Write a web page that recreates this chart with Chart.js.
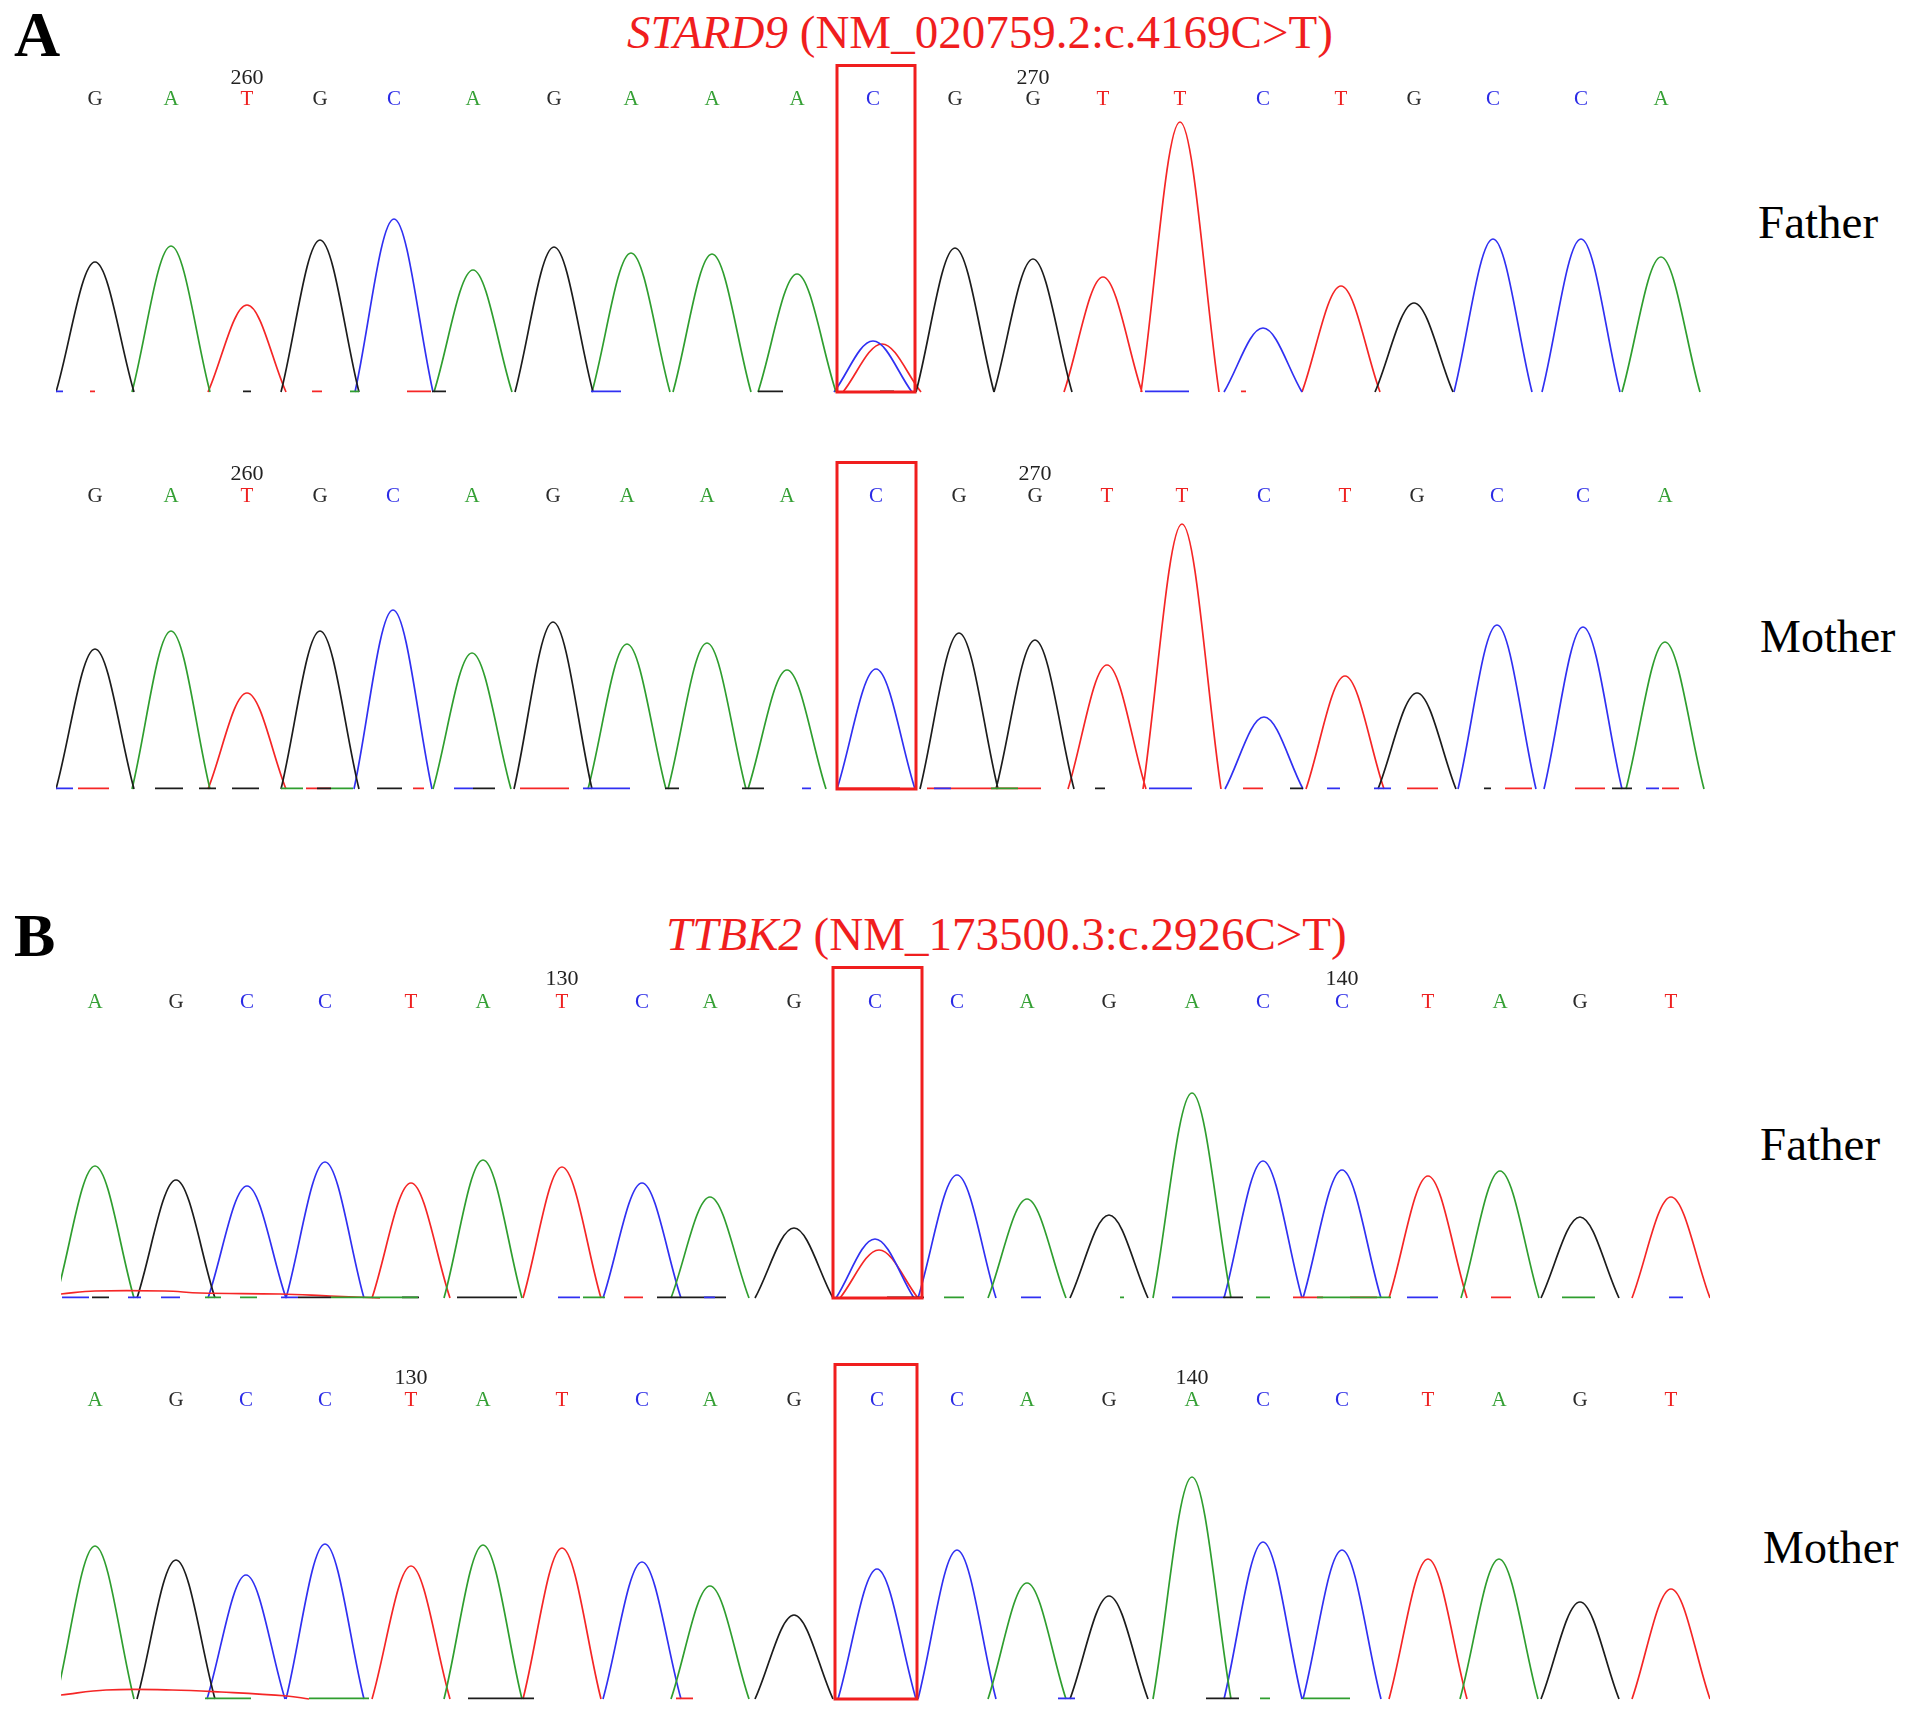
<!DOCTYPE html>
<html>
<head>
<meta charset="utf-8">
<script src="https://cdn.jsdelivr.net/npm/chart.js@4.4.0/dist/chart.umd.min.js"></script>
<style>
  body { margin: 0; background: #fff; width: 1913px; height: 1713px; position: relative; overflow: hidden; font-family: "Liberation Serif", "Times New Roman", serif; }
  .lbl { position: absolute; white-space: nowrap; line-height: 1; }
  canvas { position: absolute; left: 0; }
</style>
</head>
<body>
<div class="lbl" style="left:14px;top:3px;font-size:64px;font-weight:bold;">A</div>
<div class="lbl" style="left:627px;top:9px;font-size:47px;color:#f01e1e;"><i>STARD9</i> (NM_020759.2:c.4169C&gt;T)</div>
<div class="lbl" style="left:1758px;top:199px;font-size:47px;">Father</div>
<div class="lbl" style="left:1760px;top:614px;font-size:46px;">Mother</div>
<div class="lbl" style="left:14px;top:904px;font-size:62px;font-weight:bold;">B</div>
<div class="lbl" style="left:666px;top:911px;font-size:47px;color:#f01e1e;"><i>TTBK2</i> (NM_173500.3:c.2926C&gt;T)</div>
<div class="lbl" style="left:1760px;top:1121px;font-size:47px;">Father</div>
<div class="lbl" style="left:1763px;top:1525px;font-size:46px;">Mother</div>

<canvas id="aFather"></canvas>
<canvas id="aMother"></canvas>
<canvas id="bFather"></canvas>
<canvas id="bMother"></canvas>

<script>
// base calls
const seqA = ['G','A','T','G','C','A','G','A','A','A','C','G','G','T','T','C','T','G','C','C','A'];
const seqB = ['A','G','C','C','T','A','T','C','A','G','C','C','A','G','A','C','C','T','A','G','T'];

// peak positions (scan) and heights (signal)
const posAFather = [95, 171, 247, 320, 394, 473, 554, 631, 712, 797, 873, 955, 1033, 1103, 1180, 1263, 1341, 1414, 1493, 1581, 1661];
const hAFather   = [130, 146, 87, 152, 173, 122, 145, 139, 138, 118, 51, 144, 133, 115, 270, 64, 106, 89, 153, 153, 135];
const posAMother = [95, 171, 247, 320, 393, 472, 553, 627, 707, 787, 876, 959, 1035, 1107, 1182, 1264, 1345, 1417, 1497, 1583, 1665];
const hAMother   = [140, 158, 96, 158, 179, 136, 167, 145, 146, 119, 120, 156, 149, 124, 265, 72, 113, 96, 164, 162, 147];
const posBFather = [95, 176, 247, 325, 411, 483, 562, 642, 710, 794, 875, 957, 1027, 1109, 1192, 1263, 1342, 1428, 1500, 1580, 1671];
const hBFather   = [132, 118, 112, 136, 115, 138, 131, 115, 101, 70, 59, 123, 99, 83, 205, 137, 128, 122, 127, 81, 101];
const posBMother = [95, 176, 246, 325, 411, 483, 562, 642, 710, 794, 877, 957, 1027, 1109, 1192, 1263, 1342, 1428, 1499, 1580, 1671];
const hBMother   = [153, 139, 124, 155, 133, 154, 151, 137, 113, 84, 130, 149, 116, 103, 222, 157, 149, 140, 140, 97, 110];

// secondary (heterozygous) peaks
const hetAFather = [{ base: 'T', x: 882, h: 48 }];
const hetBFather = [{ base: 'T', x: 879, h: 48 }];

// position numbers: [call index, label]
const numAFather = [[2, '260'], [12, '270']];
const numAMother = [[2, '260'], [12, '270']];
const numBFather = [[6, '130'], [16, '140']];
const numBMother = [[4, '130'], [14, '140']];

// low baseline noise, [from, to] per channel
const noiseAFather = {
  C: [[56, 63], [591, 621], [1145, 1189]],
  T: [[90, 95], [312, 322], [407, 431], [1241, 1246]],
  G: [[243, 251], [432, 446], [758, 783], [880, 894]],
  A: [[350, 359]]
};
const noiseAMother = {
  C: [[56, 73], [454, 473], [583, 630], [802, 811], [934, 951], [1149, 1192], [1327, 1340], [1374, 1391], [1646, 1659]],
  T: [[78, 109], [306, 331], [413, 424], [520, 569], [838, 900], [927, 1041], [1243, 1263], [1407, 1438], [1505, 1532], [1575, 1605], [1662, 1679]],
  G: [[155, 183], [199, 216], [232, 259], [317, 331], [377, 402], [473, 495], [665, 679], [742, 764], [1095, 1105], [1290, 1303], [1484, 1491], [1612, 1632]],
  A: [[281, 303], [331, 353], [991, 1018]]
};
const noiseBFather = {
  C: [[62, 89], [128, 141], [161, 180], [281, 298], [558, 580], [704, 715], [1021, 1041], [1172, 1223], [1407, 1438], [1669, 1683]],
  G: [[92, 109], [298, 331], [402, 419], [457, 517], [657, 726], [887, 924], [1223, 1243]],
  A: [[205, 221], [240, 257], [331, 418], [583, 605], [944, 964], [1120, 1124], [1256, 1270], [1317, 1391], [1562, 1595]],
  T: [[624, 643], [1293, 1323], [1350, 1377], [1491, 1511]]
};
const noiseBMother = {
  A: [[205, 251], [309, 369], [1260, 1270], [1303, 1350]],
  G: [[468, 534], [1206, 1239]],
  T: [[676, 693]],
  C: [[1058, 1075]]
};

// red dye drift at the start of the B reads
const driftBFather = [[61, 4], [95, 7], [165, 7], [200, 5], [280, 4], [330, 2], [380, 0]];
const driftBMother = [[61, 4], [106, 9], [172, 9], [221, 7], [287, 3], [309, 0]];

const traceColors = { A: '#2f9e2f', C: '#3030f2', G: '#1c1c1c', T: '#f52626' };
const callColors  = { A: '#35a035', C: '#2a2ae6', G: '#2a2a2a', T: '#ee2020' };
const HALF = 39;   // peak half width in scans
const W = 1913;

const panels = [
  { id: 'aFather', seq: seqA, pos: posAFather, h: hAFather, het: hetAFather, nums: numAFather, noise: noiseAFather, drift: null,
    base: 392, yMax: 328, xMin: 56, xMax: 1702, callLift: 287, numLift: 308, box: [837, 915] },
  { id: 'aMother', seq: seqA, pos: posAMother, h: hAMother, het: [], nums: numAMother, noise: noiseAMother, drift: null,
    base: 789, yMax: 328, xMin: 56, xMax: 1705, callLift: 287, numLift: 309, box: [837, 916] },
  { id: 'bFather', seq: seqB, pos: posBFather, h: hBFather, het: hetBFather, nums: numBFather, noise: noiseBFather, drift: driftBFather,
    base: 1298, yMax: 332, xMin: 61, xMax: 1710, callLift: 290, numLift: 313, box: [833, 922] },
  { id: 'bMother', seq: seqB, pos: posBMother, h: hBMother, het: [], nums: numBMother, noise: noiseBMother, drift: driftBMother,
    base: 1699, yMax: 336, xMin: 61, xMax: 1710, callLift: 293, numLift: 315, box: [835, 917] }
];

// base calls, position numbers and the red box
const callsPlugin = {
  id: 'calls',
  afterDatasetsDraw(chart, args, o) {
    const { ctx, chartArea, scales } = chart;
    const x = scales.x;
    ctx.save();
    ctx.textAlign = 'center';
    ctx.textBaseline = 'alphabetic';
    ctx.font = '21px "Liberation Serif"';
    o.seq.forEach((b, i) => {
      ctx.fillStyle = callColors[b];
      ctx.fillText(b, x.getPixelForValue(o.pos[i]), chartArea.bottom - o.callLift);
    });
    ctx.font = '22px "Liberation Serif"';
    ctx.fillStyle = '#222';
    o.nums.forEach(([i, t]) => {
      ctx.fillText(t, x.getPixelForValue(o.pos[i]), chartArea.bottom - o.numLift);
    });
    ctx.strokeStyle = '#f01e1e';
    ctx.lineWidth = 3;
    const x0 = x.getPixelForValue(o.box[0]);
    const x1 = x.getPixelForValue(o.box[1]);
    ctx.strokeRect(x0, chartArea.top + 1.5, x1 - x0, chartArea.bottom - chartArea.top - 1.5);
    ctx.restore();
  }
};

function peakData(p, b) {
  const peaks = [];
  p.seq.forEach((s, i) => { if (s === b) peaks.push({ x: p.pos[i], h: p.h[i] }); });
  p.het.forEach(e => { if (e.base === b) peaks.push({ x: e.x, h: e.h }); });
  peaks.sort((a, c) => a.x - c.x);
  const pts = [];
  peaks.forEach(k => {
    pts.push({ x: k.x - HALF, y: 0 }, { x: k.x, y: k.h }, { x: k.x + HALF, y: 0 }, { x: k.x + HALF, y: null });
  });
  return pts;
}

function noiseData(list) {
  const pts = [];
  (list || []).forEach(([a, c]) => pts.push({ x: a, y: 0.6 }, { x: c, y: 0.6 }, { x: c, y: null }));
  return pts;
}

panels.forEach(p => {
  const cv = document.getElementById(p.id);
  cv.width = W;
  cv.height = p.yMax + 8;
  cv.style.top = (p.base - p.yMax - 4) + 'px';

  const datasets = [];
  ['A', 'C', 'G', 'T'].forEach(b => {
    datasets.push({ data: noiseData(p.noise[b]), borderColor: traceColors[b], tension: 0, borderWidth: 1.8 });
  });
  if (p.drift) {
    datasets.push({ data: p.drift.map(([x, y]) => ({ x, y })), borderColor: traceColors.T, tension: 0.4, borderWidth: 1.7 });
  }
  ['G', 'A', 'C', 'T'].forEach(b => {
    datasets.push({ data: peakData(p, b), borderColor: traceColors[b] });
  });
  datasets.forEach(d => { d.fill = false; d.spanGaps = false; d.clip = { left: 0, right: 0, top: 10, bottom: 4 }; });

  new Chart(cv, {
    type: 'line',
    data: { datasets },
    options: {
      responsive: false,
      animation: false,
      events: [],
      layout: { padding: { left: p.xMin, right: W - p.xMax, top: 4, bottom: 4 } },
      scales: {
        x: { type: 'linear', min: p.xMin, max: p.xMax, display: false },
        y: { min: 0, max: p.yMax, display: false }
      },
      elements: {
        point: { radius: 0 },
        line: { borderWidth: 1.7, tension: 0.35 }
      },
      plugins: {
        legend: { display: false },
        tooltip: { enabled: false },
        calls: { seq: p.seq, pos: p.pos, nums: p.nums, callLift: p.callLift, numLift: p.numLift, box: p.box }
      }
    },
    plugins: [callsPlugin]
  });
});
</script>
</body>
</html>
